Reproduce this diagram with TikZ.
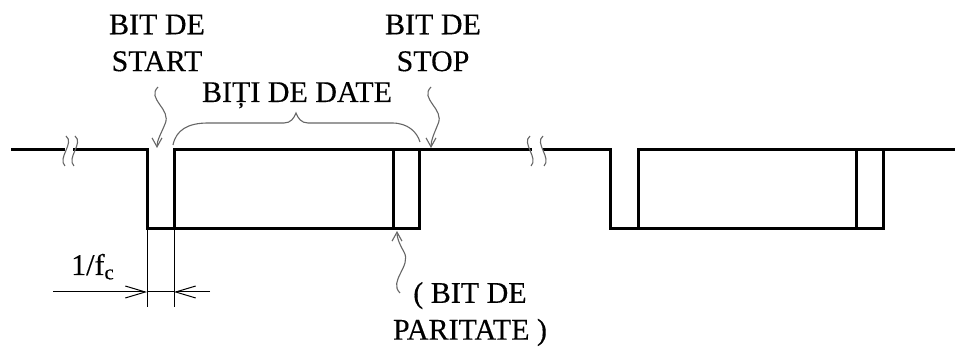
\documentclass[tikz,border=0pt]{standalone}
\usepackage{fontspec}
\setmainfont{Liberation Serif}
\newfontfamily\labelfont[FakeBold=0.3]{Liberation Serif}
\usetikzlibrary{arrows.meta}
\begin{document}
\begin{tikzpicture}[x=0.5pt,y=-0.5pt,
  signal/.style={line width=1.5pt,line join=miter,line cap=rect},
  thin/.style={line width=0.5pt},
  note/.style={line width=0.55pt,draw=black!60},
  pointer/.style={note,-{Straight Barb[length=4.5pt,width=5pt]}},
  dimtip/.style={thin,-{Straight Barb[length=10pt,width=6pt]}},
  label/.style={inner sep=0pt,align=center,font=\labelfont\fontsize{15pt}{18.4pt}\selectfont}]
\useasboundingbox (0,0) rectangle (955,352);

% ---- first frame ----
\coordinate (a0) at (12,150);
\coordinate (a1) at (63,150);
\coordinate (a2) at (74,150);
\coordinate (s1t) at (147,150);
\coordinate (s1b) at (147,229);
\coordinate (d1t) at (174,150);
\coordinate (d1b) at (174,229);
\coordinate (p1t) at (393,150);
\coordinate (p1b) at (393,229);
\coordinate (e1t) at (419,150);
\coordinate (e1b) at (419,229);
\coordinate (b1) at (530,150);
% ---- second frame ----
\coordinate (b2) at (544,150);
\coordinate (s2t) at (610,150);
\coordinate (s2b) at (610,229);
\coordinate (d2t) at (638,150);
\coordinate (d2b) at (638,229);
\coordinate (p2t) at (856,150);
\coordinate (p2b) at (856,229);
\coordinate (e2t) at (883,150);
\coordinate (e2b) at (883,229);
\coordinate (z) at (955,150);

\draw[signal] (a0) -- (a1);
\draw[signal] (a2) -- (s1t) -- (s1b) -- (e1b) -- (e1t);
\draw[signal] (d1b) -- (d1t) -- (b1);
\draw[signal] (p1t) -- (p1b);
\draw[signal] (b2) -- (s2t) -- (s2b) -- (e2b) -- (e2t);
\draw[signal] (d2b) -- (d2t) -- (z);
\draw[signal] (p2t) -- (p2b);

% ---- line breaks ----
\foreach \x in {66,75}
  \draw[note] (\x,136) .. controls (\x+9,143) and (\x-9,158) .. (\x-1,166);
\foreach \x in {530,543}
  \draw[note] (\x,136) .. controls (\x-9,143) and (\x+9,158) .. (\x+1,166);

% ---- labels ----
\node[label] (start) at (157,43) {BIT DE\\START};
\node[label] (stop) at (433,43) {BIT DE\\STOP};
\node[label,anchor=base] (date) at (297,102) {BIȚI DE DATE};
\node[label] (parity) at (470,314) {( BIT DE\\PARITATE )};
\node[label,anchor=base] (period) at (93,275) {1/f\textsubscript{c}};

% ---- pointers ----
\coordinate (startp) at (158,87);
\coordinate (startq) at (157,148);
\coordinate (stopp) at (431,87);
\coordinate (stopq) at (431,148);
\coordinate (parp) at (400,293);
\coordinate (parq) at (397,231);
\draw[pointer] (startp) .. controls (146,99) and (172,109) .. (165,124)
  .. controls (161,134) and (157,140) .. (startq);
\draw[pointer] (stopp) .. controls (419,99) and (445,109) .. (438,124)
  .. controls (434,134) and (431,140) .. (stopq);
\draw[pointer] (parp) .. controls (388,281) and (412,266) .. (404,252)
  .. controls (399,243) and (397,238) .. (parq);

% ---- brace over the data bits ----
\coordinate (brL) at (173,145);
\coordinate (brT) at (296,113);
\coordinate (brR) at (420,142);
\draw[note] (brL) .. controls (176,130) and (188,123) .. (208,123) -- (284,123)
  .. controls (291,123) and (294,118) .. (brT)
  .. controls (298,118) and (301,123) .. (308,123) -- (392,123)
  .. controls (408,123) and (417,132) .. (brR);

% ---- period dimension ----
\coordinate (x1) at (147,307);
\coordinate (x2) at (174,307);
\coordinate (m1) at (147,292);
\coordinate (m2) at (174,292);
\coordinate (dl) at (53,292);
\coordinate (dr) at (210,292);
\draw[thin] (s1b) -- (x1);
\draw[thin] (d1b) -- (x2);
\draw[dimtip] (dl) -- (m1);
\draw[dimtip] (dr) -- (m2);
\draw[thin] (m1) -- (m2);
\end{tikzpicture}
\end{document}
